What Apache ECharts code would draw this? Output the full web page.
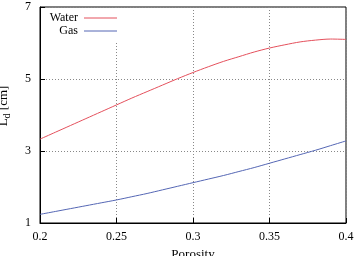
<!DOCTYPE html>
<html>
<head>
<meta charset="utf-8">
<script src="https://cdn.jsdelivr.net/npm/echarts@6/dist/echarts.min.js"></script>
<style>
html, body { margin: 0; padding: 0; background: #fff; }
#chart { width: 354px; height: 256px; }
</style>
</head>
<body>
<div id="chart"></div>
<script>
// porosity values along the x axis
const porosity = [0.20, 0.21, 0.22, 0.23, 0.24, 0.25, 0.26, 0.27, 0.28, 0.29, 0.30,
                  0.31, 0.32, 0.33, 0.34, 0.35, 0.36, 0.37, 0.38, 0.39, 0.40];
// L_d [cm]
const water = [3.33, 3.52, 3.71, 3.90, 4.09, 4.28, 4.47, 4.65, 4.83, 5.01, 5.18,
               5.34, 5.49, 5.62, 5.75, 5.86, 5.95, 6.03, 6.08, 6.11, 6.10];
const gas = [1.24, 1.32, 1.40, 1.48, 1.56, 1.64, 1.73, 1.82, 1.92, 2.02, 2.12,
             2.22, 2.32, 2.43, 2.54, 2.66, 2.78, 2.90, 3.02, 3.15, 3.28];

const font = "'Liberation Serif', 'DejaVu Serif', serif";
const pair = (ys) => porosity.map((x, i) => [x, ys[i]]);

const chart = echarts.init(document.getElementById('chart'));

chart.setOption({
    animation: false,
    grid: {
        left: 40, right: 8, top: 7, bottom: 33,
        outerBoundsMode: 'none',
        show: true, borderColor: '#000', borderWidth: 1
    },
    legend: {
        data: ['Water', 'Gas'],
        orient: 'vertical',
        left: 43,
        top: 8,
        padding: [4, 3, 6, 5],
        backgroundColor: '#fff',
        align: 'right',
        itemGap: 1,
        itemWidth: 33,
        itemHeight: 10,
        itemStyle: { opacity: 0 },
        lineStyle: { width: 1 },
        textStyle: {
            fontFamily: font, fontSize: 12, color: '#000', lineHeight: 10,
            width: 30, align: 'right', padding: [0, 1, 0, 0]
        }
    },
    xAxis: {
        type: 'value',
        min: 0.2, max: 0.4, interval: 0.05,
        name: 'Porosity',
        nameLocation: 'middle',
        nameGap: 24,
        nameTextStyle: { fontFamily: font, fontSize: 13, color: '#000' },
        axisLine: { show: true, lineStyle: { color: '#000' } },
        axisTick: { inside: true, length: 5, lineStyle: { color: '#000' } },
        axisLabel: { fontFamily: font, fontSize: 12, color: '#000', margin: 8 },
        splitLine: { show: true, lineStyle: { color: '#888', type: [1, 2], width: 1 } }
    },
    yAxis: {
        type: 'value',
        min: 1, max: 7, interval: 2,
        name: '{l|L}{s|d} [cm]',
        nameLocation: 'middle',
        nameGap: 28,
        nameRotate: 90,
        nameTextStyle: {
            fontFamily: font, fontSize: 13, color: '#000',
            padding: [0, 0, 0, 18],
            rich: {
                l: { fontFamily: font, fontSize: 13, color: '#000' },
                s: { fontFamily: font, fontSize: 10, color: '#000', padding: [7, 0, 0, 0] }
            }
        },
        axisLine: { show: true, lineStyle: { color: '#000' } },
        axisTick: { inside: true, length: 5, lineStyle: { color: '#000' } },
        axisLabel: { fontFamily: font, fontSize: 12, color: '#000', margin: 9 },
        splitLine: { show: true, lineStyle: { color: '#888', type: [1, 2], width: 1 } }
    },
    series: [
        {
            name: 'Water', type: 'line', data: pair(water),
            smooth: 0.3, symbol: 'none',
            lineStyle: { color: '#e4505c', width: 1 }, itemStyle: { color: '#e4505c' }
        },
        {
            name: 'Gas', type: 'line', data: pair(gas),
            smooth: 0.3, symbol: 'none',
            lineStyle: { color: '#5466b4', width: 1 }, itemStyle: { color: '#5466b4' }
        }
    ]
});
</script>
</body>
</html>
